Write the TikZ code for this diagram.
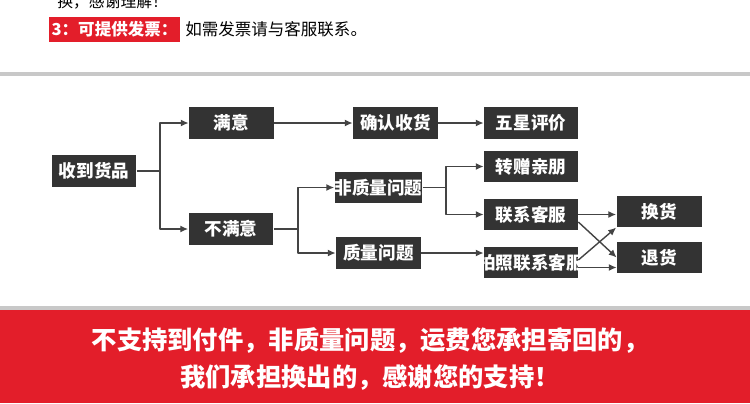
\documentclass[tikz,border=0pt]{standalone}
\usepackage{fontspec}
\setmainfont{Noto Sans CJK SC}
\usetikzlibrary{arrows.meta}
\definecolor{boxgray}{HTML}{333333}
\definecolor{linegray}{HTML}{444444}
\definecolor{bandred}{HTML}{E31E2A}
\definecolor{rulegray}{HTML}{C8C8C8}
\tikzset{
  flowbox/.style={fill=boxgray,text=white,inner sep=0pt,minimum width=1.7cm,
    minimum height=0.63cm,font=\bfseries\fontsize{10}{12}\selectfont},
  widebox/.style={flowbox,minimum width=1.88cm},
  link/.style={draw=linegray,line width=0.8pt},
  flow/.style={link,-{Latex[length=4.5pt,width=4pt]}},
}
\begin{document}
\begin{tikzpicture}[x=0.02cm,y=-0.02cm,line join=round]
  \clip (0,0) rectangle (750,403);
  \fill[white] (0,0) rectangle (750,403);
  % notes on top
  \node[anchor=west,inner sep=0pt,font=\fontsize{9}{11}\selectfont] (prevline) at (57,2) {换，感谢理解！};
  \node[fill=bandred,text=white,inner sep=0pt,minimum width=2.62cm,minimum height=0.5cm,
    font=\bfseries\fontsize{9.4}{11}\selectfont] (invoicelabel) at (114.5,29.5) {3：可提供发票：};
  \node[anchor=west,inner sep=0pt,font=\fontsize{9.4}{11}\selectfont] (invoicetext) at (185,29.5) {如需发票请与客服联系。};
  \fill[rulegray] (0,72) rectangle (750,76);
  % flow chart
  \node[flowbox] (recv) at (94,171) {收到货品};
  \node[flowbox] (ok) at (231.5,123) {满意};
  \node[flowbox] (notok) at (231,229) {不满意};
  \node[flowbox] (confirm) at (395.5,123) {确认收货};
  \node[widebox] (fivestar) at (531,123) {五星评价};
  \node[flowbox] (nonq) at (378.5,187.5) {非质量问题};
  \node[flowbox] (qual) at (378.5,253) {质量问题};
  \node[widebox] (gift) at (531,166.5) {转赠亲朋};
  \node[widebox] (service) at (531,214.5) {联系客服};
  \node[widebox,inner xsep=-0.14cm] (photo) at (531,262.5) {拍照联系客服};
  \node[flowbox] (exch) at (659,211.5) {换货};
  \node[flowbox] (refund) at (659.5,257.5) {退货};
  \coordinate (split1) at (160,171);
  \coordinate (split2) at (298,229);
  \coordinate (split3) at (446,187.5);
  \draw[link] (recv.east) -- (split1);
  \draw[flow] (split1) |- (ok.west);
  \draw[flow] (split1) |- (notok.west);
  \draw[flow] (ok.east) -- (confirm.west);
  \draw[flow] (confirm.east) -- (fivestar.west);
  \draw[link] (notok.east) -- (split2);
  \draw[flow] (split2) |- (nonq.west);
  \draw[flow] (split2) |- (qual.west);
  \draw[link] (nonq.east) -- (split3);
  \draw[flow] (split3) |- (gift.west);
  \draw[flow] (split3) |- (service.west);
  \draw[flow] (qual.east) -- (qual.east -| photo.west);
  \draw[flow] (service.east) -- (service.east -| exch.west);
  \draw[flow] (service.-9) -- (refund.west);
  \draw[flow] (photo.3) -- (exch.south west);
  \draw[flow] (photo.-6) -- (photo.-6 -| refund.west);
  % red band
  \fill[rulegray] (0,306) rectangle (750,311);
  \fill[bandred] (0,310) rectangle (750,403);
  \node[text=white,align=center,inner sep=0pt,font=\bfseries\fontsize{14.4}{21.5}\selectfont]
    (notice) at (370,359) {不支持到付件，非质量问题，运费您承担寄回的，\\我们承担换出的，感谢您的支持！};
\end{tikzpicture}
\end{document}
